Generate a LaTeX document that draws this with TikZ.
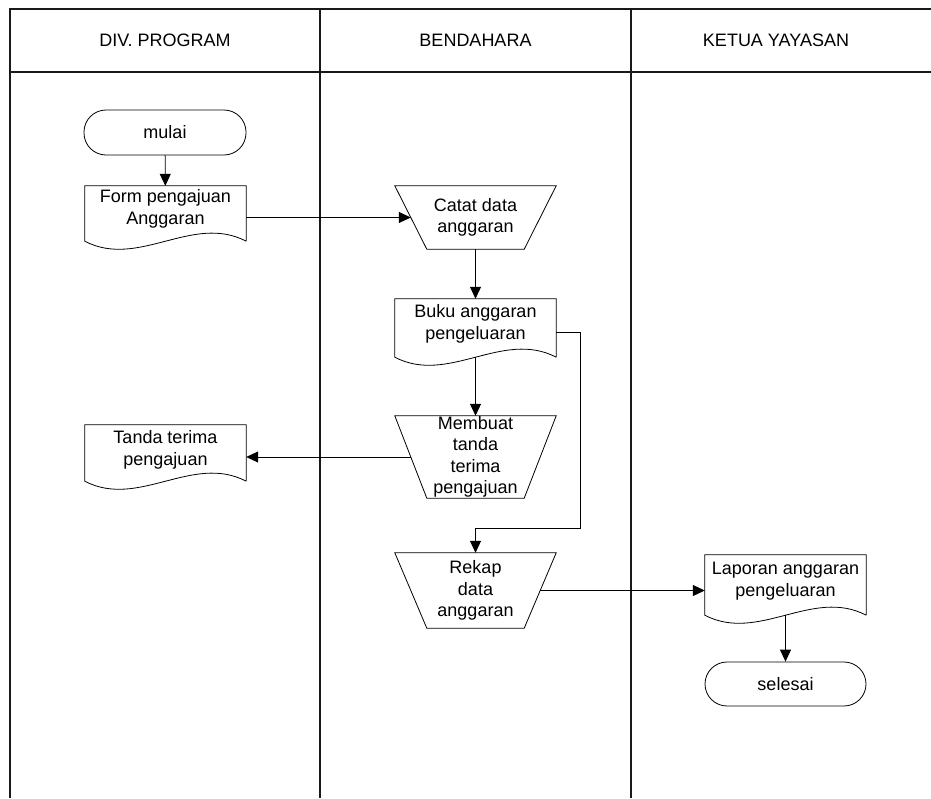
\documentclass[tikz,border=0pt]{standalone}
\usepackage{fontspec}
\setmainfont{Liberation Sans}
\usetikzlibrary{arrows.meta,calc}
\tikzset{
  frame/.style={line width=1.1pt,black!90},
  shp/.style={line width=0.8pt,black},
  arr/.style={line width=0.8pt,black,-{Triangle[length=12pt,width=11pt]}},
  conn/.style={line width=0.8pt,black},
  txt/.style={inner sep=0pt,align=center,font=\fontsize{18}{21.5}\selectfont},
  docbox/.style={draw=none,inner sep=0pt,minimum width=161pt},
  term/.style={draw,line width=0.8pt,rounded corners=22pt,inner sep=0pt,minimum width=162pt,minimum height=45pt,font=\fontsize{18}{21.5}\selectfont}
}
\newcommand\docshape[6]{% name, cx, top, height, text offset, text
  \node[docbox,minimum height=#4] (#1) at (#2,#3+#4/2) {};
  \draw[shp] (#1.south east) -- (#1.north east) -- (#1.north west) -- (#1.south west)
     .. controls ($(#1.south west)+(53.7,28)$) and ($(#1.south east)+(-53.7,-28)$) .. (#1.south east);
  \node[txt] (#1-text) at (#2,#3+#5) {#6};
}
\newcommand\trapshape[5]{% name, cx, top, height, text
  \node[docbox,minimum height=#4] (#1) at (#2,#3+#4/2) {};
  \draw[shp] (#1.north west) -- (#1.north east) -- ($(#1.south east)+(-32,0)$) -- ($(#1.south west)+(32,0)$) -- cycle;
  \node[txt] (#1-text) at (#1.center) {#5};
}
\begin{document}
\begin{tikzpicture}[x=1pt,y=-1pt]
\useasboundingbox (0,0) rectangle (931,798);
% frame
\draw[frame] (931,9) -- (10,9) -- (10,798);
\draw[frame] (10,72) -- (931,72);
\draw[frame] (320,9) -- (320,798);
\draw[frame] (631,9) -- (631,798);
% headers
\node[txt] (h1) at (165,40) {DIV. PROGRAM};
\node[txt] (h2) at (475.5,40) {BENDAHARA};
\node[txt] (h3) at (776,40) {KETUA YAYASAN};
% shapes
\node[term] (mulai) at (165,132.5) {mulai};
\docshape{form}{165.5}{186}{55}{23}{Form pengajuan\\Anggaran}
\trapshape{catat}{475.5}{186}{63}{Catat data\\anggaran}
\docshape{buku}{475.5}{299}{58}{25}{Buku anggaran\\pengeluaran}
\trapshape{membuat}{475.5}{416}{82}{Membuat\\tanda\\terima\\pengajuan}
\docshape{tanda}{165.5}{425}{56}{25}{Tanda terima\\pengajuan}
\trapshape{rekap}{475.5}{553}{75}{Rekap\\data\\anggaran}
\docshape{laporan}{785.5}{555}{60}{26}{Laporan anggaran\\pengeluaran}
\node[term,minimum width=161pt,minimum height=44pt] (selesai) at (785.5,684) {selesai};
% connectors
\draw[arr] (mulai) -- (form);
\draw[arr] (form.east |- catat.center) -- ($(catat.west)+(16,0)$);
\draw[arr] (catat) -- (buku);
\draw[arr] (buku.south) -- (membuat.north);
\draw[arr] ($(membuat.west)+(16,0)$) -- (tanda.east |- membuat.west);
\coordinate (bk) at (580,528);
\draw[arr] ($(buku.east)+(0,4)$) -| (bk) -| (rekap.north);
\draw[arr] ($(rekap.east)+(-16,0)$) -- (laporan.west |- rekap.east);
\draw[arr] (laporan.south) -- (selesai.north);
\end{tikzpicture}
\end{document}
